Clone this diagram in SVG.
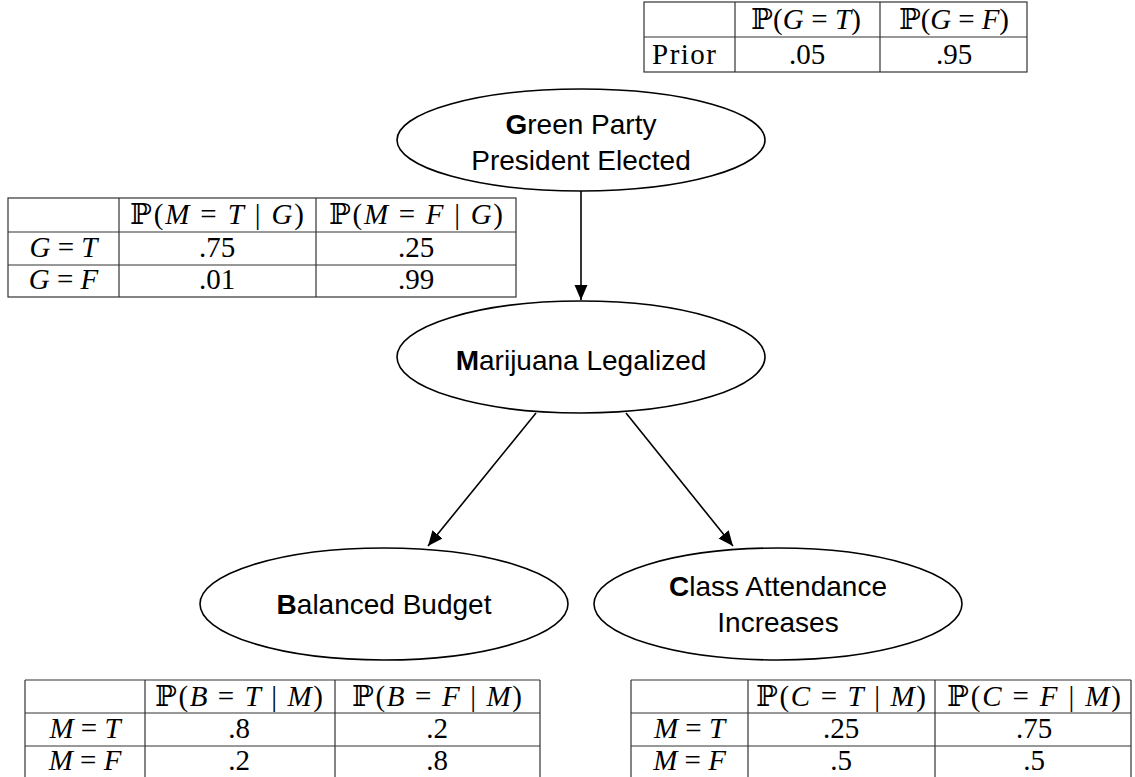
<svg xmlns="http://www.w3.org/2000/svg" width="1135" height="777" viewBox="0 0 1135 777">
<style>
.node ellipse{fill:#fff;stroke:#000;stroke-width:1.6}
.lbl{font-family:"Liberation Sans",Arial,sans-serif;font-size:28px;fill:#000;text-anchor:middle}
.b{font-weight:bold}
.tbl line,.tbl rect{stroke:#333;stroke-width:1.2;fill:none}
.tt{font-family:"Liberation Serif","DejaVu Serif",serif;font-size:29px;fill:#000;text-anchor:middle}
.i{font-style:italic}
.edge{stroke:#000;stroke-width:1.6;fill:none}
</style>
<defs>
<marker id="arr" markerUnits="userSpaceOnUse" markerWidth="16" markerHeight="14" refX="15" refY="6.5" orient="auto">
<path d="M0,0 L15,6.5 L0,13 Z" fill="#000"/>
</marker>
</defs>
<rect width="1135" height="777" fill="#fff"/>

<g id="table-G" class="tbl">
<rect x="644" y="2" width="383" height="70"/>
<line x1="644" y1="37" x2="1027" y2="37"/>
<line x1="735" y1="2" x2="735" y2="72"/>
<line x1="880" y1="2" x2="880" y2="72"/>
<text class="tt" x="806" y="29" textLength="110" lengthAdjust="spacing">ℙ(<tspan class="i">G</tspan> = <tspan class="i">T</tspan>)</text>
<text class="tt" x="954" y="29" textLength="110" lengthAdjust="spacing">ℙ(<tspan class="i">G</tspan> = <tspan class="i">F</tspan>)</text>
<text class="tt" x="684" y="64" textLength="64" lengthAdjust="spacing">Prior</text>
<text class="tt" x="807" y="64">.05</text>
<text class="tt" x="954" y="64">.95</text>
</g>

<g id="table-M" class="tbl">
<rect x="8" y="198" width="508" height="99"/>
<line x1="8" y1="232" x2="516" y2="232"/>
<line x1="8" y1="265" x2="516" y2="265"/>
<line x1="119" y1="198" x2="119" y2="297"/>
<line x1="316" y1="198" x2="316" y2="297"/>
<text class="tt" x="217" y="224" textLength="174" lengthAdjust="spacing">ℙ(<tspan class="i">M</tspan> = <tspan class="i">T</tspan> | <tspan class="i">G</tspan>)</text>
<text class="tt" x="416" y="224" textLength="174" lengthAdjust="spacing">ℙ(<tspan class="i">M</tspan> = <tspan class="i">F</tspan> | <tspan class="i">G</tspan>)</text>
<text class="tt" x="63.5" y="257"><tspan class="i">G</tspan> = <tspan class="i">T</tspan></text>
<text class="tt" x="217" y="257">.75</text>
<text class="tt" x="416" y="257">.25</text>
<text class="tt" x="63.5" y="289"><tspan class="i">G</tspan> = <tspan class="i">F</tspan></text>
<text class="tt" x="217" y="289">.01</text>
<text class="tt" x="416" y="289">.99</text>
</g>

<g id="table-B" class="tbl">
<line x1="25" y1="680" x2="540" y2="680"/>
<line x1="25" y1="713" x2="540" y2="713"/>
<line x1="25" y1="746" x2="540" y2="746"/>
<line x1="25" y1="680" x2="25" y2="777"/>
<line x1="145" y1="680" x2="145" y2="777"/>
<line x1="335" y1="680" x2="335" y2="777"/>
<line x1="540" y1="680" x2="540" y2="777"/>
<text class="tt" x="239" y="706" textLength="168" lengthAdjust="spacing">ℙ(<tspan class="i">B</tspan> = <tspan class="i">T</tspan> | <tspan class="i">M</tspan>)</text>
<text class="tt" x="437" y="706" textLength="170" lengthAdjust="spacing">ℙ(<tspan class="i">B</tspan> = <tspan class="i">F</tspan> | <tspan class="i">M</tspan>)</text>
<text class="tt" x="85" y="738"><tspan class="i">M</tspan> = <tspan class="i">T</tspan></text>
<text class="tt" x="239" y="738">.8</text>
<text class="tt" x="437" y="738">.2</text>
<text class="tt" x="85" y="770"><tspan class="i">M</tspan> = <tspan class="i">F</tspan></text>
<text class="tt" x="239" y="770">.2</text>
<text class="tt" x="437" y="770">.8</text>
</g>

<g id="table-C" class="tbl">
<line x1="631" y1="680" x2="1131" y2="680"/>
<line x1="631" y1="713" x2="1131" y2="713"/>
<line x1="631" y1="746" x2="1131" y2="746"/>
<line x1="631" y1="680" x2="631" y2="777"/>
<line x1="748" y1="680" x2="748" y2="777"/>
<line x1="935" y1="680" x2="935" y2="777"/>
<line x1="1131" y1="680" x2="1131" y2="777"/>
<text class="tt" x="841" y="706" textLength="170" lengthAdjust="spacing">ℙ(<tspan class="i">C</tspan> = <tspan class="i">T</tspan> | <tspan class="i">M</tspan>)</text>
<text class="tt" x="1034" y="706" textLength="174" lengthAdjust="spacing">ℙ(<tspan class="i">C</tspan> = <tspan class="i">F</tspan> | <tspan class="i">M</tspan>)</text>
<text class="tt" x="689.5" y="738"><tspan class="i">M</tspan> = <tspan class="i">T</tspan></text>
<text class="tt" x="841" y="738">.25</text>
<text class="tt" x="1034" y="738">.75</text>
<text class="tt" x="689.5" y="770"><tspan class="i">M</tspan> = <tspan class="i">F</tspan></text>
<text class="tt" x="841" y="770">.5</text>
<text class="tt" x="1034" y="770">.5</text>
</g>

<g id="connectors">
<line class="edge" x1="581" y1="191" x2="581" y2="300" marker-end="url(#arr)"/>
<line class="edge" x1="536" y1="413" x2="428" y2="546" marker-end="url(#arr)"/>
<line class="edge" x1="626" y1="413" x2="733" y2="546" marker-end="url(#arr)"/>
</g>

<g id="node-G" class="node">
<ellipse cx="581" cy="140" rx="184" ry="51"/>
<text class="lbl" x="581" y="134"><tspan class="b">G</tspan>reen Party</text>
<text class="lbl" x="581" y="170">President Elected</text>
</g>

<g id="node-M" class="node">
<ellipse cx="581" cy="357" rx="184" ry="56"/>
<text class="lbl" x="581" y="370"><tspan class="b">M</tspan>arijuana Legalized</text>
</g>

<g id="node-B" class="node">
<ellipse cx="384" cy="604" rx="184" ry="56"/>
<text class="lbl" x="384" y="614"><tspan class="b">B</tspan>alanced Budget</text>
</g>

<g id="node-C" class="node">
<ellipse cx="778" cy="604" rx="184" ry="56"/>
<text class="lbl" x="778" y="596"><tspan class="b">C</tspan>lass Attendance</text>
<text class="lbl" x="778" y="632">Increases</text>
</g>
</svg>
